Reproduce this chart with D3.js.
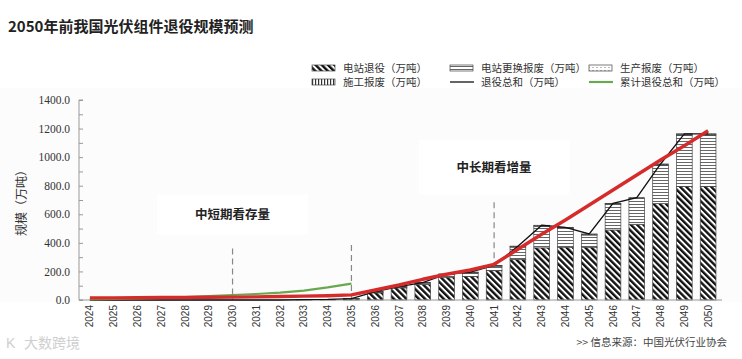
<!DOCTYPE html>
<html><head><meta charset="utf-8">
<script src="https://cdn.jsdelivr.net/npm/d3@7"></script>
<style>
html,body{margin:0;padding:0;background:#fff;}
svg{display:block;}
</style></head>
<body>
<svg id="chart" width="742" height="359"></svg>
<script>
const years = ["2024","2025","2026","2027","2028","2029","2030","2031","2032","2033","2034","2035","2036","2037","2038","2039","2040","2041","2042","2043","2044","2045","2046","2047","2048","2049","2050"];
// 电站退役
const stationRetire = [0,0,0,0,0,0,0,0,0,2,4,8,50,85,110,160,165,205,285,365,370,370,490,530,675,795,795];
// 电站更换报废
const replaceScrap = [0,0,0,0,0,0,0,0,0,0,0,2,5,5,8,18,25,30,85,150,130,85,180,180,270,360,360];
// 生产报废
const productionScrap = [0,0,0,0,0,0,0,0,0,0,0,0,3,3,3,3,4,5,5,6,6,5,4,4,5,6,6];
// 施工报废
const constructionScrap = [0,0,0,0,0,0,0,0,0,0,0,0,1,1,1,1,1,2,2,2,2,2,2,2,2,2,2];
// 累计退役总和 (2024-2035)
const cumYears = ["2024","2025","2026","2027","2028","2029","2030","2031","2032","2033","2034","2035"];
const cumulative = [5,8,11,15,20,27,35,42,52,66,88,115];
// red trend annotation line
const trend = [15,15,16,17,18,19,20,22,24,27,30,36,70,105,145,180,210,250,355,460,560,665,770,875,980,1080,1185];
const yTicks = [0,200,400,600,800,1000,1200,1400];
const yMinor = [0,100,200,300,400,500,600,700,800,900,1000,1100,1200,1300,1400];
const dashedYears = ["2030","2035","2041"];

const svg = d3.select("#chart");
const cjk = "'Noto Sans CJK SC','Noto Sans',sans-serif";
const serif = "'Liberation Serif','Noto Sans CJK SC',serif";

// defs / patterns
const defs = svg.append("defs");
function pat(id, w, h, transform, draw){
  const p = defs.append("pattern").attr("id",id).attr("patternUnits","userSpaceOnUse")
    .attr("width",w).attr("height",h);
  if(transform) p.attr("patternTransform",transform);
  p.append("rect").attr("width",w).attr("height",h).attr("fill","#fff");
  draw(p);
}
pat("pDiag",4.4,4.4,"rotate(-45)",p=>p.append("rect").attr("x",0).attr("y",0).attr("width",2.4).attr("height",4.4).attr("fill","#111"));
pat("pHoriz",4,3,null,p=>p.append("rect").attr("x",0).attr("y",0).attr("width",4).attr("height",1).attr("fill","#666"));
pat("pProd",4,3,null,p=>p.append("rect").attr("x",0).attr("y",1).attr("width",2).attr("height",1).attr("fill","#bbb"));
pat("pVert",3,4,null,p=>p.append("rect").attr("x",0).attr("y",0).attr("width",1.2).attr("height",4).attr("fill","#333"));

// backgrounds
svg.append("rect").attr("x",0).attr("y",88).attr("width",742).attr("height",214).attr("fill","#fcfcfc");

// title
svg.append("text").attr("x",8).attr("y",32).attr("font-family",cjk).attr("font-weight","bold")
  .attr("font-size",15).attr("fill","#222").text("2050年前我国光伏组件退役规模预测");

const x = d3.scaleBand().domain(years).range([78,720]).paddingInner(0.34).paddingOuter(0.17);
const y = d3.scaleLinear().domain([0,1400]).range([300,100]);
const cx = d => x(d) + x.bandwidth()/2;

// annotation boxes
const boxes = [
  {x0:"2027",x1:"2033",v0:740,v1:460,text:"中短期看存量"},
  {x0:"2038",x1:"2044",v0:1120,v1:740,text:"中长期看增量"}
];
boxes.forEach(b=>{
  const x0 = cx(b.x0)-4, x1 = cx(b.x1)+4;
  svg.append("rect").attr("x",x0).attr("y",y(b.v0)).attr("width",x1-x0).attr("height",y(b.v1)-y(b.v0)).attr("fill","#fff");
  svg.append("text").attr("x",(x0+x1)/2).attr("y",(y(b.v0)+y(b.v1))/2).attr("dy","0.35em")
    .attr("text-anchor","middle").attr("font-family",serif).attr("font-weight","bold").attr("font-size",12.5)
    .attr("fill","#222").text(b.text);
});

// dashed lines
const dashTop = {"2030":360,"2035":385,"2041":685};
dashedYears.forEach(yr=>{
  svg.append("line").attr("x1",cx(yr)).attr("x2",cx(yr)).attr("y1",y(dashTop[yr])).attr("y2",y(0))
    .attr("stroke","#888").attr("stroke-width",1.2).attr("stroke-dasharray","6,4");
});

// stacked bars
const keys = ["station","replace","prod","cons"];
const fills = {station:"url(#pDiag)",replace:"url(#pHoriz)",prod:"url(#pProd)",cons:"url(#pVert)"};
const rows = years.map((yr,i)=>({year:yr,station:stationRetire[i],replace:replaceScrap[i],prod:productionScrap[i],cons:constructionScrap[i]}));
const stack = d3.stack().keys(keys)(rows);
stack.forEach(layer=>{
  svg.append("g").selectAll("rect").data(layer.filter(d=>d[1]-d[0]>0)).join("rect")
    .attr("x",d=>x(d.data.year)).attr("width",x.bandwidth())
    .attr("y",d=>y(d[1])).attr("height",d=>y(d[0])-y(d[1]))
    .attr("fill",fills[layer.key]).attr("stroke","#444").attr("stroke-width",0.7);
});

// axes
const yAxisX = 79;
const gMinor = svg.append("g").attr("transform",`translate(${yAxisX},0)`)
  .call(d3.axisRight(y).tickValues(yMinor).tickSize(4).tickFormat(""));
gMinor.selectAll("line").attr("stroke","#999");
gMinor.select(".domain").attr("stroke","#999").attr("d",`M4,${y(1400)}H0V${y(0)}H4`);
const gY = svg.append("g").attr("transform",`translate(${yAxisX},0)`)
  .call(d3.axisLeft(y).tickValues(yTicks).tickSize(0).tickPadding(9).tickFormat(d=>d3.format(".1f")(d)));
gY.select(".domain").remove();
gY.selectAll("text").attr("font-family",serif).attr("font-size",11.5).attr("fill","#333");

svg.append("line").attr("x1",yAxisX).attr("x2",722).attr("y1",y(0)).attr("y2",y(0)).attr("stroke","#999").attr("stroke-width",1);
const gX = svg.append("g").attr("transform",`translate(0,${y(0)})`)
  .call(d3.axisBottom(x).tickSize(0).tickPadding(0));
gX.select(".domain").remove();
gX.selectAll("text").attr("font-family","'Liberation Sans',Arial,sans-serif").attr("font-size",10).attr("fill","#333")
  .attr("text-anchor","end").attr("transform",function(d){return `translate(0,5) rotate(-90)`;})
  .attr("x",0).attr("y",0).attr("dy","0.35em");

// y title
svg.append("text").attr("transform",`translate(26,${200}) rotate(-90)`).attr("text-anchor","middle")
  .attr("font-family",serif).attr("font-size",12).attr("fill","#333").text("规模（万吨）");

// total line
const totals = years.map((yr,i)=>({year:yr,v:stationRetire[i]+replaceScrap[i]+productionScrap[i]+constructionScrap[i]}));
svg.append("path").datum(totals).attr("fill","none").attr("stroke","#111").attr("stroke-width",1.3)
  .attr("d",d3.line().x(d=>cx(d.year)).y(d=>y(d.v)));
// cumulative green
svg.append("path").datum(cumYears.map((yr,i)=>({year:yr,v:cumulative[i]}))).attr("fill","none")
  .attr("stroke","#6aa84f").attr("stroke-width",2.2)
  .attr("d",d3.line().x(d=>cx(d.year)).y(d=>y(d.v)));
// red trend
svg.append("path").datum(years.map((yr,i)=>({year:yr,v:trend[i]}))).attr("fill","none")
  .attr("stroke","#d52b2b").attr("stroke-width",3.4).attr("stroke-linejoin","round")
  .attr("d",d3.line().x(d=>cx(d.year)).y(d=>y(d.v)));

// legend
svg.append("rect").attr("x",300).attr("y",57).attr("width",442).attr("height",31).attr("fill","#fff");
const legend = [
  {x:312,y:68,type:"rect",fill:"url(#pDiag)",label:"电站退役（万吨）"},
  {x:450,y:68,type:"rect",fill:"url(#pHoriz)",label:"电站更换报废（万吨）"},
  {x:589,y:68,type:"rect",fill:"url(#pProd)",label:"生产报废（万吨）"},
  {x:312,y:82,type:"rect",fill:"url(#pVert)",label:"施工报废（万吨）"},
  {x:450,y:82,type:"line",color:"#111",w:1.3,label:"退役总和（万吨）"},
  {x:589,y:82,type:"line",color:"#6aa84f",w:2.2,label:"累计退役总和（万吨）"}
];
legend.forEach(l=>{
  if(l.type==="rect"){
    svg.append("rect").attr("x",l.x).attr("y",l.y-3).attr("width",23).attr("height",6)
      .attr("fill",l.fill).attr("stroke","#444").attr("stroke-width",0.7);
  } else {
    svg.append("line").attr("x1",l.x).attr("x2",l.x+24).attr("y1",l.y).attr("y2",l.y)
      .attr("stroke",l.color).attr("stroke-width",l.w);
  }
  svg.append("text").attr("x",l.x+31).attr("y",l.y).attr("dy","0.36em").attr("font-family",serif)
    .attr("font-size",10.5).attr("fill","#333").text(l.label);
});

// footer
svg.append("text").attr("x",24).attr("y",348).attr("font-family",cjk).attr("font-size",14)
  .attr("fill","#cfcfcf").text("大数跨境");
svg.append("text").attr("x",6).attr("y",348).attr("font-family","'Liberation Sans',sans-serif").attr("font-size",14)
  .attr("fill","#cfcfcf").text("K");
svg.append("text").attr("x",727).attr("y",346).attr("text-anchor","end").attr("font-family",cjk)
  .attr("font-size",10.5).attr("fill","#444").text(">>  信息来源：中国光伏行业协会");
</script>
</body></html>
